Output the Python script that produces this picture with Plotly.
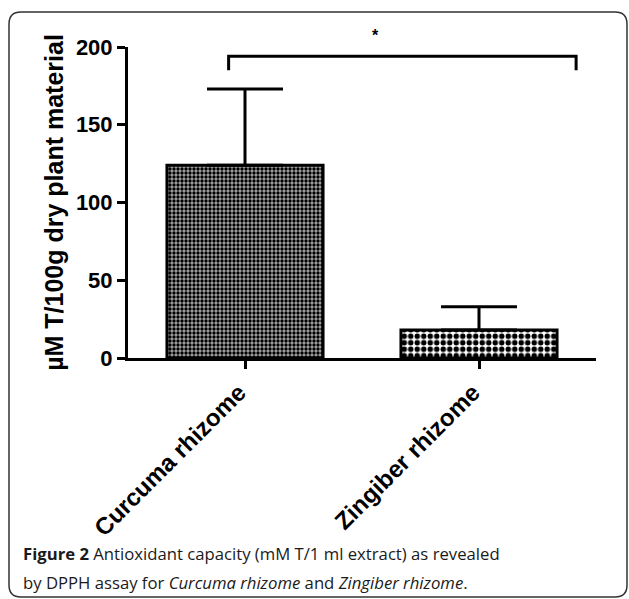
import plotly.graph_objects as go

categories = ["Curcuma rhizome", "Zingiber rhizome"]
means = [124, 18]
errors_up = [49, 15]
y_ticks = [0, 50, 100, 150, 200]
sig_label = "*"
caption_line1 = "<b>Figure 2</b> Antioxidant capacity (mM T/1 ml extract) as revealed"
caption_line2 = "by DPPH assay for <i>Curcuma rhizome</i> and <i>Zingiber rhizome</i>."

W, H = 629, 599
L, R, T, B = 128, 33, 47, 241
pw, ph = W - L - R, H - T - B

def px_to_paper(px, py):
    return (px - L) / pw, (H - B - py) / ph

patterns = [
    dict(shape=".", size=4, solidity=0.55, fgcolor="black", bgcolor="#a8a8a8", fillmode="replace"),
    dict(shape=".", size=6.5, solidity=0.55, fgcolor="black", bgcolor="white", fillmode="replace"),
]

fig = go.Figure()
for cat, m, e, pat in zip(categories, means, errors_up, patterns):
    fig.add_trace(go.Bar(
        x=[cat], y=[m], width=0.667,
        marker=dict(color=pat["bgcolor"], line=dict(color="black", width=3), pattern=pat),
        error_y=dict(type="data", symmetric=False, array=[e], arrayminus=[0],
                     color="black", thickness=3, width=38),
        showlegend=False,
    ))

# significance bracket
bx0, bx1, by_top, by_low = -0.07, 1.415, 194, 185
fig.add_shape(type="path", xref="x", yref="y",
              path=f"M {bx0},{by_low} L {bx0},{by_top} L {bx1},{by_top} L {bx1},{by_low}",
              line=dict(color="black", width=3))
_, star_y = px_to_paper(0, 25)
fig.add_annotation(x=0.556, y=star_y, xref="x", yref="paper", text=sig_label, showarrow=False,
                   font=dict(family="Liberation Sans", size=16, color="black", weight="bold"))

# rounded frame
x0, y1 = px_to_paper(9, 12)
x1, y0 = px_to_paper(627, 597)
rx, ry = 12 / pw, 12 / ph
path = (f"M {x0+rx},{y1} L {x1-rx},{y1} Q {x1},{y1} {x1},{y1-ry} "
        f"L {x1},{y0+ry} Q {x1},{y0} {x1-rx},{y0} L {x0+rx},{y0} "
        f"Q {x0},{y0} {x0},{y0+ry} L {x0},{y1-ry} Q {x0},{y1} {x0+rx},{y1} Z")
fig.add_shape(type="path", xref="paper", yref="paper", path=path,
              line=dict(color="#333333", width=1.5))

# caption
for txt, py in [(caption_line1, 553), (caption_line2, 582)]:
    cx, cy = px_to_paper(21, py)
    fig.add_annotation(x=cx, y=cy, xref="paper", yref="paper", text=txt, showarrow=False,
                       xanchor="left", yanchor="middle",
                       font=dict(family="Open Sans", size=16.7, color="#1a1a1a"))

fig.update_layout(
    width=W, height=H, margin=dict(l=L, r=R, t=T, b=B),
    plot_bgcolor="white", paper_bgcolor="white", barmode="overlay",
    xaxis=dict(type="category", range=[-0.5, 1.5], showline=True, linecolor="black",
               linewidth=3, ticks="outside", ticklen=8, tickwidth=2.5, tickcolor="black",
               tickangle=-45, ticklabelshift=-6,
               tickfont=dict(family="Liberation Sans", size=24, color="black", weight="bold"),
               showgrid=False, zeroline=False),
    yaxis=dict(range=[0, 200], tickvals=y_ticks, showline=True, linecolor="black",
               linewidth=3, ticks="outside", ticklen=8, tickwidth=2.5, tickcolor="black",
               tickfont=dict(family="Liberation Sans", size=22, color="black", weight="bold"),
               title=dict(text="µM T/100g dry plant material", standoff=6,
                          font=dict(family="Liberation Sans", size=25, color="black", weight="bold")),
               showgrid=False, zeroline=False),
)

fig.write_html("out.html", config={"displayModeBar": False},
               post_script="document.body.style.margin='0';")
